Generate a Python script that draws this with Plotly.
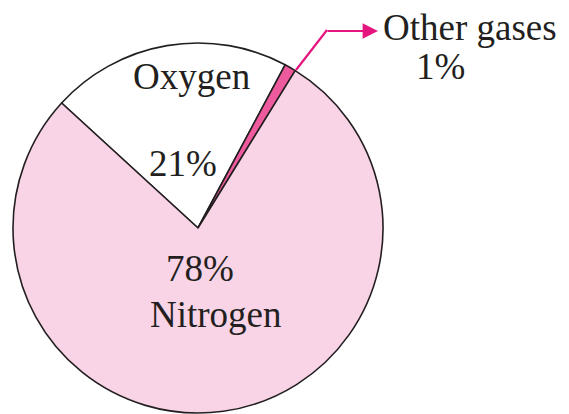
import plotly.graph_objects as go

W, H = 569, 414

# Composition of dry air by volume (%)
gases = ["Oxygen", "Other gases", "Nitrogen"]
percent = [21, 1, 78]
slice_colors = ["#FFFFFF", "#EE5A9E", "#F9D4E6"]

INK = "#231F20"
ARROW = "#E5157F"
FONT = "Liberation Serif"

# Pie placement in pixels: centre and radius
cx, cy, r = 198, 228, 185


def px(x):
    return x / W


def py(y):
    return 1 - y / H


fig = go.Figure(
    go.Pie(
        labels=gases,
        values=percent,
        sort=False,
        direction="clockwise",
        rotation=-47.5,
        marker=dict(colors=slice_colors, line=dict(color=INK, width=1.6)),
        textinfo="none",
        hoverinfo="label+percent",
        showlegend=False,
        domain=dict(x=[px(cx - r), px(cx + r)], y=[py(cy + r), py(cy - r)]),
    )
)

pct = dict(zip(gases, percent))

labels = [
    ("Oxygen", 191, 77),
    (f"{pct['Oxygen']}%", 183, 163),
    (f"{pct['Nitrogen']}%", 200, 268),
    ("Nitrogen", 216, 314),
    ("Other gases", 470, 28),
    (f"{pct['Other gases']}%", 440, 66),
]
for text, x, y in labels:
    fig.add_annotation(
        x=px(x), y=py(y), xref="paper", yref="paper",
        text=text, showarrow=False, xanchor="center", yanchor="middle",
        font=dict(family=FONT, size=37, color=INK),
    )

# Leader from the thin slice: a sloped segment then a horizontal arrow
fig.add_shape(
    type="line", xref="paper", yref="paper",
    x0=px(296), y0=py(70), x1=px(327), y1=py(30),
    line=dict(color=ARROW, width=2.2),
)
fig.add_annotation(
    x=px(378), y=py(31), xref="paper", yref="paper",
    ax=-52, ay=0, axref="pixel", ayref="pixel",
    showarrow=True, arrowhead=2, arrowsize=1.4, arrowwidth=2.2,
    arrowcolor=ARROW, text="",
)

fig.update_layout(
    width=W, height=H,
    margin=dict(l=0, r=0, t=0, b=0),
    paper_bgcolor="white", plot_bgcolor="white",
)

fig.write_html("out.html")
